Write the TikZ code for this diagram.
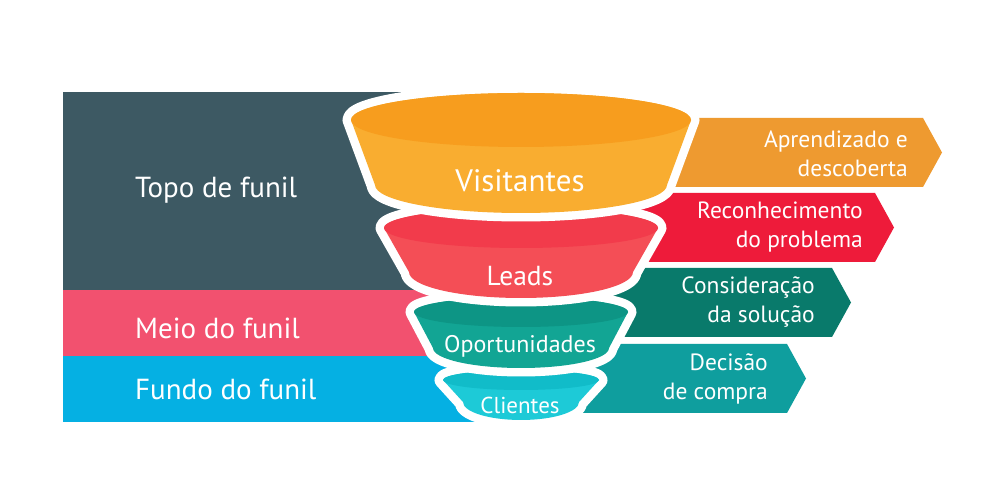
\documentclass[tikz,border=0pt]{standalone}
\usepackage{fontspec}
\setmainfont{PT Sans}
\definecolor{slateband}{HTML}{3D5963}
\definecolor{pinkband}{HTML}{F2516F}
\definecolor{blueband}{HTML}{05B0E3}
\definecolor{orangebody}{HTML}{F9AD30}
\definecolor{orangetop}{HTML}{F79D1E}
\definecolor{redbody}{HTML}{F44E56}
\definecolor{redtop}{HTML}{F23B4B}
\definecolor{tealbody}{HTML}{12A594}
\definecolor{tealtop}{HTML}{0D9585}
\definecolor{cyanbody}{HTML}{1DCAD7}
\definecolor{cyantop}{HTML}{11BCC9}
\definecolor{arrorange}{HTML}{EE9A30}
\definecolor{arrred}{HTML}{EE1B3A}
\definecolor{arrdteal}{HTML}{097A6B}
\definecolor{arrteal}{HTML}{0F9E9E}
\newcommand{\funnelcup}[9]{%
  \path[draw=white,line width=17pt,line join=round,fill=white]
    ({#1-#3},#2) -- ({#1-#6},#5) arc[start angle=180,end angle=360,x radius=#6pt,y radius=#7pt]
    -- ({#1+#3},#2) arc[start angle=0,end angle=180,x radius=#3pt,y radius=#4pt] -- cycle;
  \fill[#8]
    ({#1-#3},#2) -- ({#1-#6},#5) arc[start angle=180,end angle=360,x radius=#6pt,y radius=#7pt]
    -- ({#1+#3},#2) arc[start angle=0,end angle=180,x radius=#3pt,y radius=#4pt] -- cycle;
  \fill[#9] (#1,#2) ellipse[x radius=#3pt,y radius=#4pt];
}
\tikzset{
  bandlabel/.style={text=white,anchor=west,inner sep=0pt,font=\fontsize{29}{34}\selectfont},
  cuplabel/.style={text=white,inner sep=0pt},
  stagelabel/.style={text=white,anchor=east,align=right,inner sep=0pt,font=\fontsize{23.5}{29}\selectfont}
}
\begin{document}
\begin{tikzpicture}[x=1pt,y=1pt]
\useasboundingbox (0,0) rectangle (1000,500);
\fill[white] (0,0) rectangle (1000,500);
% left bands
\fill[slateband] (63,408) rectangle (520,210);
\fill[pinkband] (63,210) rectangle (520,144);
\fill[blueband] (63,144) rectangle (520,78);
\node[bandlabel] (topo) at (135,310) {Topo de funil};
\node[bandlabel] (meio) at (135,172) {Meio do funil};
\node[bandlabel] (fundo) at (135,111) {Fundo do funil};
% right arrows
\fill[arrorange] (640,382) -- (923,382) -- (942,347.5) -- (923,313) -- (640,313) -- cycle;
\fill[arrred] (620,307) -- (875,307) -- (894,272.5) -- (875,238) -- (620,238) -- cycle;
\fill[arrdteal] (590,232) -- (832,232) -- (851,197.5) -- (832,163) -- (590,163) -- cycle;
\fill[arrteal] (560,156) -- (787,156) -- (806,121.5) -- (787,87) -- (560,87) -- cycle;
\node[stagelabel] (s1) at (908,346) {Aprendizado e\\descoberta};
\node[stagelabel] (s2) at (863,272.5) {Reconhecimento\\do problema};
\node[stagelabel] (s3) at (815,197.5) {Consideração\\da solução};
\node[stagelabel] (s4) at (768,121) {Decisão\\de compra};
% funnel cups, bottom first
\funnelcup{521}{120}{78}{10}{98}{58}{18}{cyanbody}{cyantop}
\funnelcup{521}{188}{107}{15}{152}{88}{20}{tealbody}{tealtop}
\funnelcup{521}{272}{137}{20}{228}{112}{26}{redbody}{redtop}
\funnelcup{521}{380}{170}{27}{315}{146}{28}{orangebody}{orangetop}
\node[cuplabel,font=\fontsize{31}{35}\selectfont] (visit) at (520,319) {Visitantes};
\node[cuplabel,font=\fontsize{27.5}{31}\selectfont] (leads) at (520,224) {Leads};
\node[cuplabel,font=\fontsize{24}{28}\selectfont] (oport) at (520,154) {Oportunidades};
\node[cuplabel,font=\fontsize{23}{27}\selectfont] (clien) at (520,95) {Clientes};
\end{tikzpicture}
\end{document}
